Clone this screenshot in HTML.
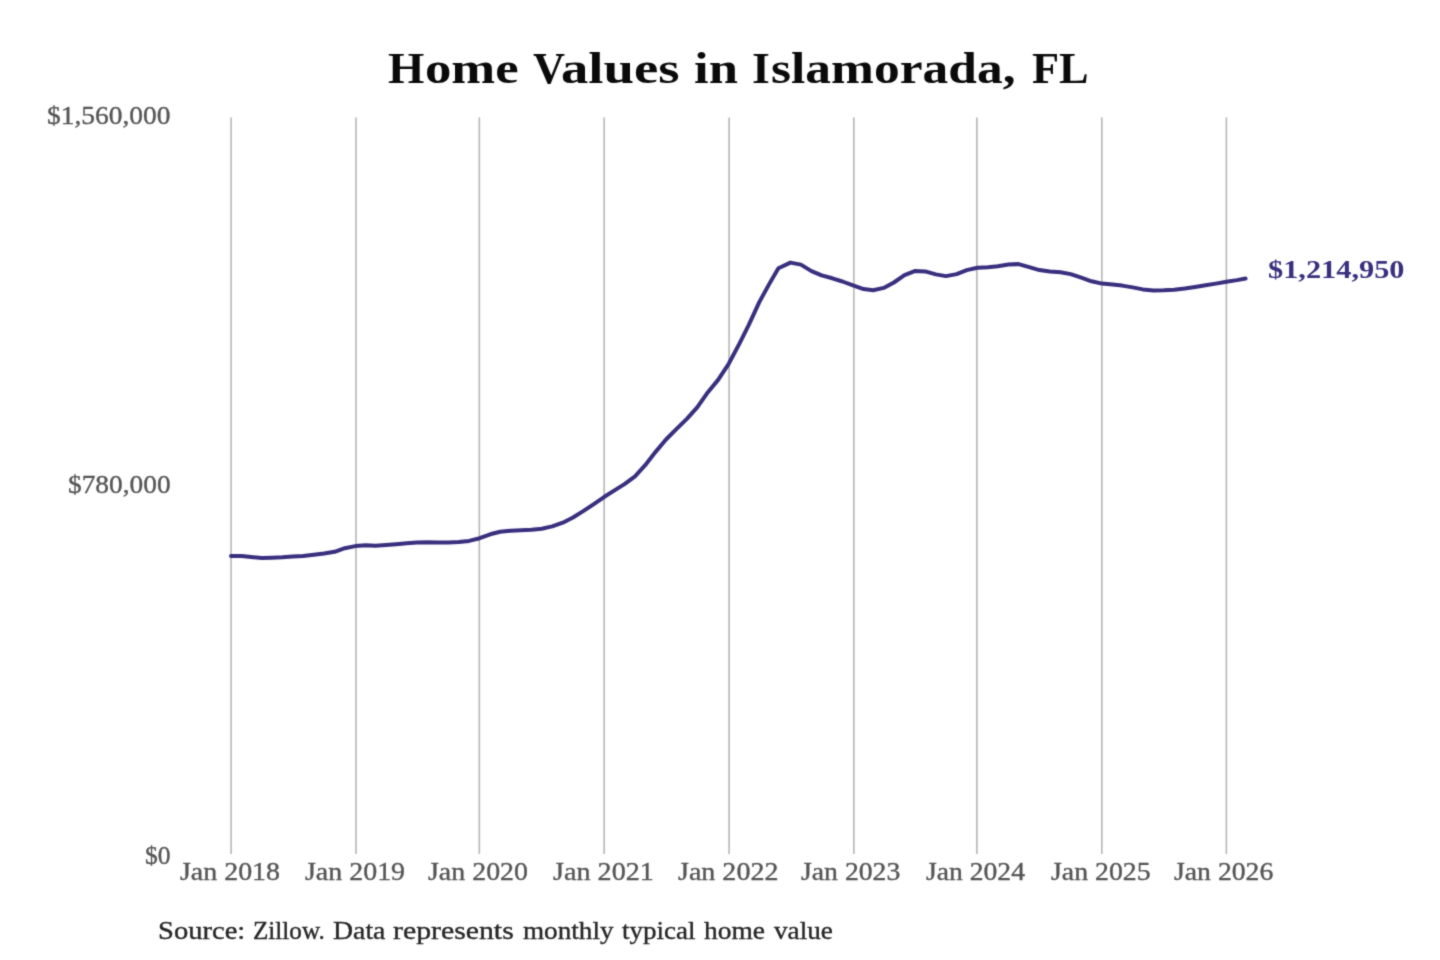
<!DOCTYPE html>
<html lang="en">
<head>
<meta charset="utf-8">
<title>Home Values in Islamorada, FL</title>
<style>
html,body{margin:0;padding:0;background:#ffffff;}
body{width:1440px;height:960px;position:relative;overflow:hidden;font-family:"Liberation Serif",serif;}
#wrap{position:absolute;left:0;top:0;width:1440px;height:960px;background:#ffffff;filter:url(#soft);}
#chart{position:absolute;left:0;top:0;width:1440px;height:960px;display:block;}
.t{position:absolute;white-space:nowrap;line-height:1;transform-origin:0 0;margin:0;padding:0;font-weight:400;will-change:transform;}
.g{position:absolute;left:0;white-space:nowrap;line-height:1;margin:0;padding:0;font-weight:400;word-spacing:-0.25em;}
.g span{display:inline-block;transform-origin:0 0;will-change:transform;}
</style>
</head>
<body>
<div id="wrap">
<svg width="0" height="0" style="position:absolute" aria-hidden="true"><defs><filter id="soft" x="0" y="0" width="100%" height="100%" color-interpolation-filters="sRGB"><feConvolveMatrix order="3" kernelMatrix="1 3 1 3 16 3 1 3 1" divisor="32" bias="0" edgeMode="duplicate" preserveAlpha="true"/></filter></defs></svg>
<svg id="chart" width="1440" height="960" viewBox="0 0 1440 960">
<g stroke="#b6b6b6" stroke-width="1.6" fill="none">
<line x1="231.07" y1="117.4" x2="231.07" y2="854.0"/>
<line x1="356.0" y1="117.4" x2="356.0" y2="854.0"/>
<line x1="479.33" y1="117.4" x2="479.33" y2="854.0"/>
<line x1="604.16" y1="117.4" x2="604.16" y2="854.0"/>
<line x1="729.09" y1="117.4" x2="729.09" y2="854.0"/>
<line x1="853.86" y1="117.4" x2="853.86" y2="854.0"/>
<line x1="976.88" y1="117.4" x2="976.88" y2="854.0"/>
<line x1="1101.8" y1="117.4" x2="1101.8" y2="854.0"/>
<line x1="1226.37" y1="117.4" x2="1226.37" y2="854.0"/>
</g>
<path d="M231.0,556.1 L241.6,556.0 L251.1,556.9 L261.7,558.0 L271.9,557.7 L282.4,557.3 L292.7,556.6 L303.2,555.9 L313.8,554.7 L324.0,553.5 L334.6,551.8 L344.8,548.2 L355.3,546.1 L365.9,545.3 L375.4,545.7 L386.0,545.0 L396.2,544.2 L406.8,543.2 L417.0,542.6 L427.6,542.3 L438.1,542.4 L448.3,542.5 L458.9,542.1 L469.1,540.9 L479.7,538.2 L490.2,534.3 L500.1,531.8 L510.7,530.7 L520.9,530.3 L531.5,529.8 L541.7,528.7 L552.2,526.4 L562.8,522.7 L573.0,517.5 L583.6,510.9 L593.8,504.1 L604.4,496.8 L614.9,490.1 L624.5,484.1 L635.0,476.3 L645.2,465.2 L655.8,451.6 L666.0,439.5 L676.6,428.8 L687.1,418.6 L697.4,407.2 L707.9,392.2 L718.1,379.9 L728.7,363.8 L739.3,343.9 L748.8,324.8 L759.4,301.9 L769.6,283.4 L778.4,268.2 L790.4,262.6 L800.9,264.6 L811.5,271.1 L821.7,275.4 L832.3,278.3 L842.5,281.5 L853.0,285.4 L863.6,289.1 L873.1,290.3 L883.7,287.9 L893.9,282.5 L904.5,275.1 L914.7,271.1 L925.3,271.4 L935.8,274.4 L946.0,276.1 L956.6,274.1 L966.8,270.1 L977.4,267.7 L987.9,267.2 L997.8,266.2 L1008.4,264.5 L1018.6,264.1 L1029.2,267.1 L1039.4,270.1 L1049.9,271.6 L1060.5,272.3 L1070.7,274.1 L1081.3,277.7 L1091.5,281.3 L1102.1,283.6 L1112.6,284.6 L1122.2,285.6 L1132.7,287.4 L1142.9,289.4 L1153.5,290.5 L1163.7,290.3 L1174.3,289.7 L1184.8,288.5 L1195.1,287.0 L1205.6,285.3 L1215.8,283.6 L1226.4,281.8 L1237.0,280.1 L1245.6,278.5" fill="none" stroke="#382f7e" stroke-width="4.0" stroke-linecap="round" stroke-linejoin="round"/>
</svg>
<h1 id="title" class="g" style="top:47px;font-size:44.30px;color:#0a0a0a;font-weight:700;"><span style="margin-left:387.68px;width:37.27px;transform:scaleX(1.0556);">H</span><span style="width:108.35px;transform:scaleX(1.1905);">ome</span> <span style="width:27.45px;transform:scaleX(1.0000);">V</span><span style="width:133.36px;transform:scaleX(1.2351);">alues</span> <span style="width:58.11px;transform:scaleX(1.1885);">in</span> <span style="width:18.89px;transform:scaleX(1.0379);">I</span><span style="width:261.14px;transform:scaleX(1.1620);">slamorada,</span> <span style="width:57.80px;transform:scaleX(0.9979);">FL</span></h1>
<div class="t" style="left:47.09px;top:104px;font-size:24.60px;transform:scaleX(1.1159);color:#555555;-webkit-text-stroke:0.35px #555555;">$1,560,000</div>
<div class="t" style="left:68.06px;top:473px;font-size:24.60px;transform:scaleX(1.1125);color:#555555;-webkit-text-stroke:0.35px #555555;">$780,000</div>
<div class="t" style="left:145.22px;top:844px;font-size:24.60px;transform:scaleX(1.0402);color:#555555;-webkit-text-stroke:0.35px #555555;">$0</div>
<div class="t" style="left:179.89px;top:860px;font-size:24.60px;transform:scaleX(1.1353);color:#555555;-webkit-text-stroke:0.35px #555555;">Jan 2018</div>
<div class="t" style="left:305.28px;top:860px;font-size:24.60px;transform:scaleX(1.1354);color:#555555;-webkit-text-stroke:0.35px #555555;">Jan 2019</div>
<div class="t" style="left:428.31px;top:860px;font-size:24.60px;transform:scaleX(1.1350);color:#555555;-webkit-text-stroke:0.35px #555555;">Jan 2020</div>
<div class="t" style="left:552.65px;top:860px;font-size:24.60px;transform:scaleX(1.1445);color:#555555;-webkit-text-stroke:0.35px #555555;">Jan 2021</div>
<div class="t" style="left:677.75px;top:860px;font-size:24.60px;transform:scaleX(1.1397);color:#555555;-webkit-text-stroke:0.35px #555555;">Jan 2022</div>
<div class="t" style="left:801.35px;top:860px;font-size:24.60px;transform:scaleX(1.1270);color:#555555;-webkit-text-stroke:0.35px #555555;">Jan 2023</div>
<div class="t" style="left:926.39px;top:860px;font-size:24.60px;transform:scaleX(1.1232);color:#555555;-webkit-text-stroke:0.35px #555555;">Jan 2024</div>
<div class="t" style="left:1051.20px;top:860px;font-size:24.60px;transform:scaleX(1.1308);color:#555555;-webkit-text-stroke:0.35px #555555;">Jan 2025</div>
<div class="t" style="left:1173.77px;top:860px;font-size:24.60px;transform:scaleX(1.1274);color:#555555;-webkit-text-stroke:0.35px #555555;">Jan 2026</div>
<div class="t" style="left:1267.92px;top:257px;font-size:25.20px;transform:scaleX(1.2044);color:#382f7e;font-weight:700;">$1,214,950</div>
<p id="source" class="g" style="top:919px;font-size:24.60px;color:#262626;-webkit-text-stroke:0.35px #262626;"><span style="margin-left:158.31px;width:94.53px;transform:scaleX(1.1614);">Source:</span> <span style="width:80.30px;transform:scaleX(1.0231);">Zillow.</span> <span style="width:59.73px;transform:scaleX(1.1296);">Data</span> <span style="width:129.85px;transform:scaleX(1.2109);">represents</span> <span style="width:98.88px;transform:scaleX(1.1042);">monthly</span> <span style="width:82.18px;transform:scaleX(1.0986);">typical</span> <span style="width:70.15px;transform:scaleX(1.1154);">home</span> <span style="width:62.45px;transform:scaleX(1.1059);">value</span></p>
</div>
</body>
</html>
